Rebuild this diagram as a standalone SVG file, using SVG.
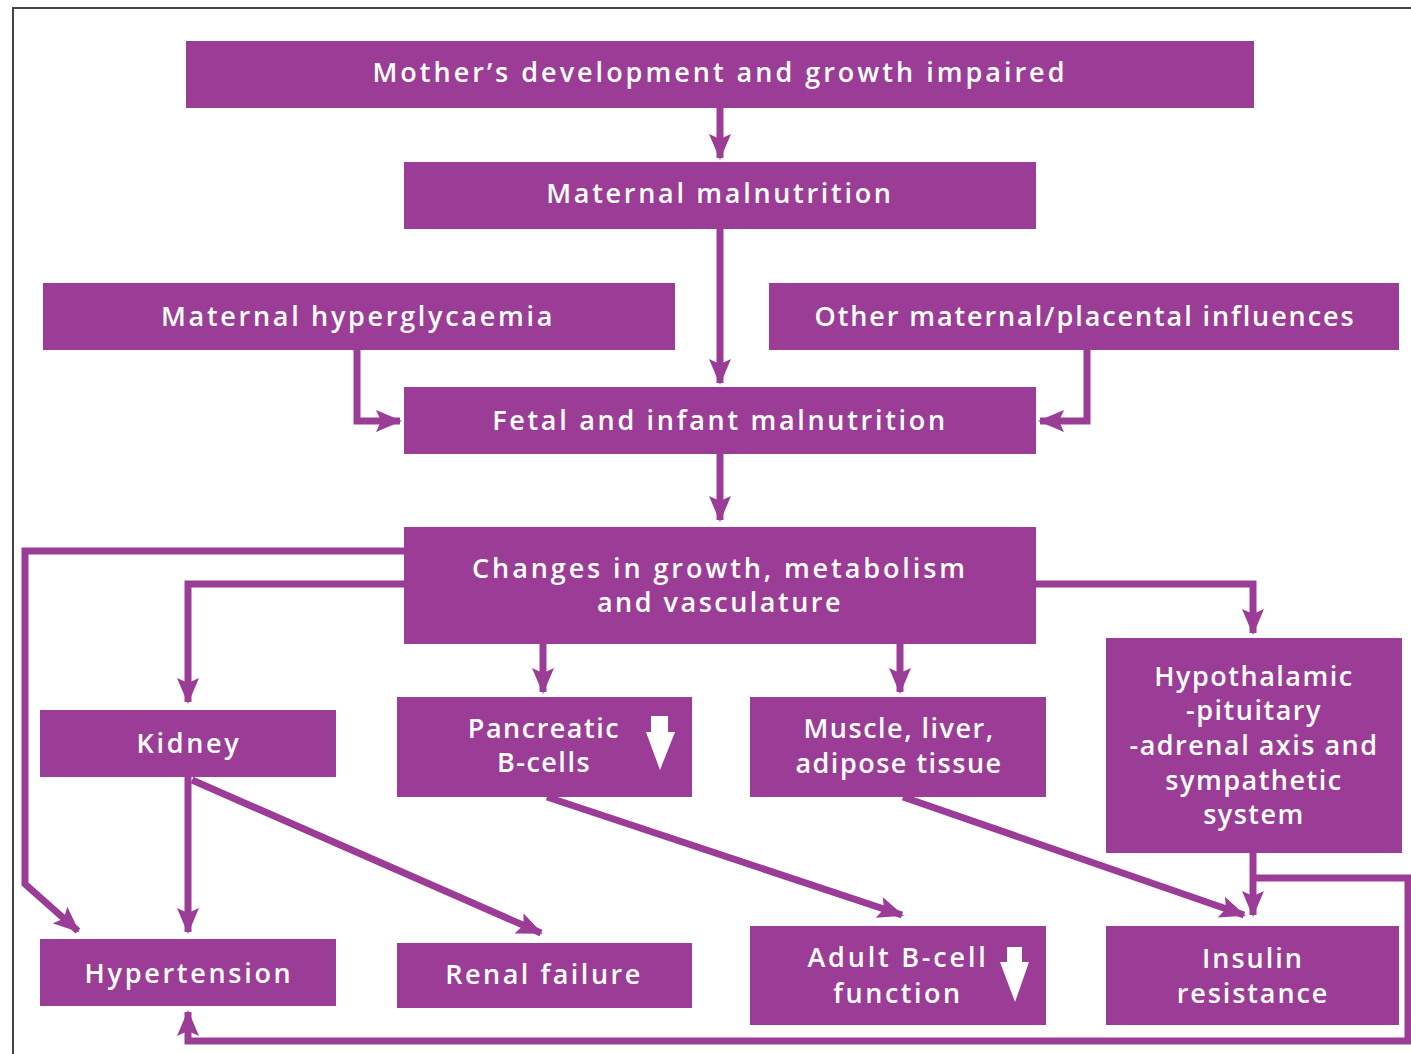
<svg xmlns="http://www.w3.org/2000/svg" width="1411" height="1054" viewBox="0 0 1411 1054">
<style>
.box{fill:#9b3d96}
.t{fill:#fff;font-family:"Open Sans","Noto Sans",sans-serif;font-size:27px;font-weight:600;letter-spacing:1.5px;text-anchor:middle;dominant-baseline:central}
.w{letter-spacing:2.7px}
.c{fill:none;stroke:#9b3d96;stroke-width:7;stroke-linejoin:miter}
.wa{fill:#fff}
</style>
<defs>
<marker id="ah" markerUnits="userSpaceOnUse" markerWidth="26" markerHeight="24" viewBox="0 0 26 24" refX="24" refY="12" orient="auto">
<path d="M0,1 L26,12 L0,23 L5,12 Z" fill="#9b3d96"/>
</marker>
</defs>
<rect x="0" y="0" width="1411" height="1054" fill="#fff"/>
<path d="M13,1060 V8 H1420" fill="none" stroke="#444" stroke-width="2"/>
<g id="connectors">
<path class="c" d="M720,108 V158" marker-end="url(#ah)"/>
<path class="c" d="M720,229 V383" marker-end="url(#ah)"/>
<path class="c" d="M357,350 V421 H400" marker-end="url(#ah)"/>
<path class="c" d="M1087,350 V421 H1040" marker-end="url(#ah)"/>
<path class="c" d="M720,454 V520" marker-end="url(#ah)"/>
<path class="c" d="M404,551 H25 V884 L78,931" marker-end="url(#ah)"/>
<path class="c" d="M404,584 H188 V702" marker-end="url(#ah)"/>
<path class="c" d="M543,644 V692" marker-end="url(#ah)"/>
<path class="c" d="M900,644 V692" marker-end="url(#ah)"/>
<path class="c" d="M1036,584 H1253 V633" marker-end="url(#ah)"/>
<path class="c" d="M188,777 V932" marker-end="url(#ah)"/>
<path class="c" d="M192,780 L541,933" marker-end="url(#ah)"/>
<path class="c" d="M547,797 L902,915" marker-end="url(#ah)"/>
<path class="c" d="M903,797 L1244,915" marker-end="url(#ah)"/>
<path class="c" d="M1253,853 V915" marker-end="url(#ah)"/>
<path class="c" d="M1253,878 H1408 V1041 H188 V1012" marker-end="url(#ah)"/>
</g>
<g id="n1"><rect class="box" x="186" y="41" width="1068" height="67"/><text class="t" x="720" y="71" style="letter-spacing:3px">Mother’s development and growth impaired</text></g>
<g id="n2"><rect class="box" x="404" y="162" width="632" height="67"/><text class="t w" x="720" y="192">Maternal malnutrition</text></g>
<g id="n3"><rect class="box" x="43" y="283" width="632" height="67"/><text class="t w" x="358" y="315">Maternal hyperglycaemia</text></g>
<g id="n4"><rect class="box" x="769" y="283" width="630" height="67"/><text class="t" x="1085" y="315" style="letter-spacing:1.9px">Other maternal/placental influences</text></g>
<g id="n5"><rect class="box" x="404" y="387" width="632" height="67"/><text class="t w" x="720" y="419">Fetal and infant malnutrition</text></g>
<g id="n6"><rect class="box" x="404" y="527" width="632" height="117"/><text class="t" x="720" y="567" style="letter-spacing:2.9px">Changes in growth, metabolism</text><text class="t" x="720" y="601" style="letter-spacing:2.5px">and vasculature</text></g>
<g id="n7"><rect class="box" x="40" y="710" width="296" height="67"/><text class="t w" x="189" y="742">Kidney</text></g>
<g id="n8"><rect class="box" x="397" y="697" width="295" height="100"/><text class="t" x="544" y="727">Pancreatic</text><text class="t" x="544" y="761">B-cells</text><polygon class="wa" points="651,716 668,716 668,732 675,732 660,770 646,732 651,732"/></g>
<g id="n9"><rect class="box" x="750" y="697" width="296" height="100"/><text class="t" x="899" y="727">Muscle, liver,</text><text class="t" x="899" y="762">adipose tissue</text></g>
<g id="n10"><rect class="box" x="1106" y="638" width="296" height="215"/><text class="t" x="1254" y="675">Hypothalamic</text><text class="t" x="1254" y="709">-pituitary</text><text class="t" x="1254" y="744">-adrenal axis and</text><text class="t" x="1254" y="779">sympathetic</text><text class="t" x="1254" y="813">system</text></g>
<g id="n11"><rect class="box" x="40" y="939" width="296" height="67"/><text class="t w" x="189" y="972">Hypertension</text></g>
<g id="n12"><rect class="box" x="397" y="943" width="295" height="65"/><text class="t" x="544" y="973" style="letter-spacing:2.5px">Renal failure</text></g>
<g id="n13"><rect class="box" x="750" y="926" width="296" height="99"/><text class="t" x="898" y="956" style="letter-spacing:2.8px">Adult B-cell</text><text class="t" x="898" y="992" style="letter-spacing:2.5px">function</text><polygon class="wa" points="1007,947 1022,947 1022,962 1029,962 1015,1002 1000,962 1007,962"/></g>
<g id="n14"><rect class="box" x="1106" y="926" width="293" height="99"/><text class="t" x="1253" y="957" style="letter-spacing:2px">Insulin</text><text class="t" x="1253" y="992" style="letter-spacing:1.9px">resistance</text></g>
</svg>
